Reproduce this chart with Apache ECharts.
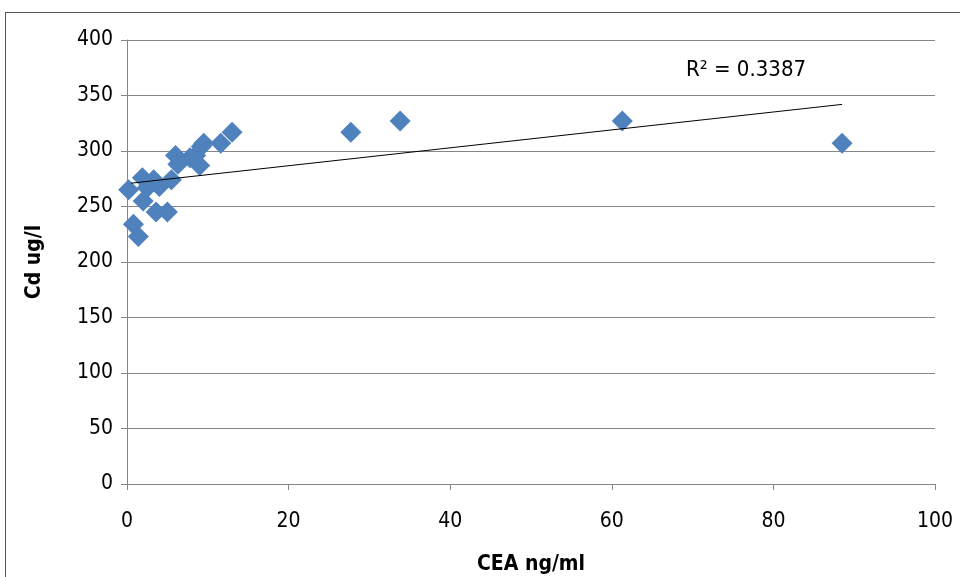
<!DOCTYPE html>
<html>
<head>
<meta charset="utf-8">
<script src="https://cdn.jsdelivr.net/npm/echarts@6/dist/echarts.min.js"></script>
<style>
html, body { margin: 0; padding: 0; background: #fff; }
#frame { position: absolute; left: 5px; top: 12px; width: 960px; height: 570px; border: 1px solid #555; box-sizing: border-box; }
#chart { position: absolute; left: 0; top: 0; width: 960px; height: 577px; }
</style>
</head>
<body>
<div id="frame"></div>
<div id="chart"></div>
<script>
// CEA (ng/ml) vs Cd (ug/l)
var cea = [0.2, 0.8, 1.4, 1.9, 2.0, 2.5, 3.3, 3.6, 4.0, 5.0, 5.5, 6.0, 6.3, 7.8, 8.5, 9.0, 9.2, 9.5, 11.6, 13.0, 27.7, 33.8, 61.3, 88.5];
var cd = [265, 234, 223, 276, 255, 267, 274, 245, 268, 245, 274, 296, 288, 294, 296, 287, 304, 307, 307, 317, 317, 327, 327, 307];

// trendline end points
var trendX = [0.5, 88.5];
var trendY = [271, 342];
var r2Text = 'R² = 0.3387';

var xTicks = [0, 20, 40, 60, 80, 100];
var yTicks = [0, 50, 100, 150, 200, 250, 300, 350, 400];

var points = [];
for (var i = 0; i < cea.length; i++) {
	points.push([cea[i], cd[i]]);
}
var trend = [];
for (var j = 0; j < trendX.length; j++) {
	trend.push([trendX[j], trendY[j]]);
}

var font = "'DejaVu Sans Condensed', 'Liberation Sans Narrow', 'Roboto', sans-serif";
var myChart = echarts.init(document.getElementById('chart'));
var option = {
	animation: false,
	grid: {
		left: 127,
		right: 25,
		top: 40,
		bottom: 93,
		containLabel: false,
		outerBoundsMode: 'none'
	},
	xAxis: {
		type: 'value',
		min: xTicks[0],
		max: xTicks[xTicks.length - 1],
		interval: 20,
		name: 'CEA ng/ml',
		nameLocation: 'middle',
		nameGap: 70,
		nameTextStyle: { fontFamily: font, fontSize: 21, fontWeight: 'bold', color: '#000' },
		axisLine: { show: true, lineStyle: { color: '#868686' } },
		axisTick: { show: true, length: 6, lineStyle: { color: '#868686' } },
		axisLabel: { fontFamily: font, fontSize: 21, color: '#000', margin: 27 },
		splitLine: { show: false }
	},
	yAxis: {
		type: 'value',
		min: yTicks[0],
		max: yTicks[yTicks.length - 1],
		interval: 50,
		name: 'Cd ug/l',
		nameLocation: 'middle',
		nameGap: 82,
		nameTextStyle: { fontFamily: font, fontSize: 21, fontWeight: 'bold', color: '#000' },
		axisLine: { show: true, lineStyle: { color: '#868686' } },
		axisTick: { show: true, length: 6, lineStyle: { color: '#868686' } },
		axisLabel: { fontFamily: font, fontSize: 21, color: '#000', margin: 14 },
		splitLine: { show: true, lineStyle: { color: '#868686', width: 1 } }
	},
	series: [
		{
			name: 'trend',
			type: 'line',
			data: trend,
			symbol: 'none',
			lineStyle: { color: '#000', width: 1 },
			silent: true,
			z: 3
		},
		{
			name: 'Cd',
			type: 'scatter',
			data: points,
			symbol: 'diamond',
			symbolSize: [21, 21],
			itemStyle: { color: '#4F81BD', opacity: 1 },
			z: 2
		}
	],
	graphic: [
		{
			type: 'text',
			left: 686,
			top: 59,
			style: { text: r2Text, fontFamily: font, fontSize: 22, fill: '#000' }
		}
	]
};
myChart.setOption(option);
</script>
</body>
</html>
